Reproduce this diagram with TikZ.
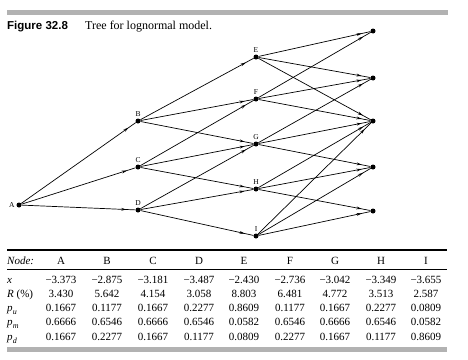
\documentclass[tikz,border=0pt]{standalone}
\usepackage{fontspec}
\setmainfont{Liberation Serif}
\newfontfamily\figfont{Liberation Sans}
\usetikzlibrary{arrows.meta,decorations.markings}
\tikzset{
	dot/.style={circle,fill,inner sep=0pt,minimum size=5pt},
	lbl/.style={font=\fontsize{7.5}{8}\selectfont,inner sep=1.5pt},
	branch/.style={draw,line width=0.7pt,postaction={decorate,decoration={markings,mark=at position -9pt with {\arrow{Stealth[length=5pt,width=2.8pt]}}}}},
	cell/.style={anchor=base,inner sep=0pt,font=\fontsize{11}{12}\selectfont},
	rowlab/.style={anchor=base west,inner sep=0pt,font=\fontsize{11}{12}\selectfont\itshape},
}
\newcommand{\psub}[1]{p\kern0.3pt\raisebox{-0.25em}{\fontsize{8}{9}\selectfont #1}}

\begin{document}
\begin{tikzpicture}[x=1pt,y=-1pt]
	\useasboundingbox (0,0) rectangle (468,359);
	% caption
	\fill[black!30] (7,10) rectangle (448,14.5);
	\node (fig) at (7,29) [anchor=base west,inner sep=0pt,font=\fontsize{11.5}{12}\selectfont\figfont\bfseries] {Figure 32.8};
	\node (cap) at (85,29) [anchor=base west,inner sep=0pt,font=\fontsize{12}{13}\selectfont] {Tree for lognormal model.};
	% tree nodes
	\node (A) at (19,205) [dot,label={[lbl]left:A}] {};
	\node (B) at (138,121) [dot,label={[lbl]above:B}] {};
	\node (C) at (138,167) [dot,label={[lbl]above:C}] {};
	\node (D) at (138,210) [dot,label={[lbl]above:D}] {};
	\node (E) at (256,57) [dot,label={[lbl]above:E}] {};
	\node (F) at (256,99) [dot,label={[lbl]above:F}] {};
	\node (G) at (256,144) [dot,label={[lbl]above:G}] {};
	\node (H) at (256,189) [dot,label={[lbl]above:H}] {};
	\node (I) at (256,236) [dot,label={[lbl]above:I}] {};
	\node (R1) at (373,31) [dot] {};
	\node (R2) at (373,78) [dot] {};
	\node (R3) at (373,121) [dot] {};
	\node (R4) at (373,167) [dot] {};
	\node (R5) at (373,211) [dot] {};
	\foreach \s/\t in {A/B,A/C,A/D,B/E,B/F,B/G,C/F,C/G,C/H,D/G,D/H,D/I,
		E/R1,E/R2,E/R3,F/R1,F/R2,F/R3,G/R2,G/R3,G/R4,H/R3,H/R4,H/R5,I/R3,I/R4,I/R5}
		\path[branch] (\s) -- (\t);
	% table
	\draw[line width=1.3pt] (7,250) -- (447,250);
	\draw[line width=0.5pt] (7,269.5) -- (447,269.5);
	\fill[black!30] (7,347) rectangle (447,352);
	\node (lnode) at (7,264.5) [rowlab] {Node:};
	\node (lx) at (7,283.5) [rowlab] {x};
	\node (lR) at (7,297.5) [rowlab] {R\upshape\ (\%)};
	\node (lpu) at (7,311.5) [rowlab] {\psub{u}};
	\node (lpm) at (7,325.5) [rowlab] {\psub{m}};
	\node (lpd) at (7,340.5) [rowlab] {\psub{d}};
	\foreach \cx/\n/\xv/\rv/\pU/\pM/\pD in {
		61/A/−3.373/3.430/0.1667/0.6666/0.1667,
		107/B/−2.875/5.642/0.1177/0.6546/0.2277,
		153/C/−3.181/4.154/0.1667/0.6666/0.1667,
		199/D/−3.487/3.058/0.2277/0.6546/0.1177,
		244/E/−2.430/8.803/0.8609/0.0582/0.0809,
		290/F/−2.736/6.481/0.1177/0.6546/0.2277,
		335/G/−3.042/4.772/0.1667/0.6666/0.1667,
		381/H/−3.349/3.513/0.2277/0.6546/0.1177,
		426/I/−3.655/2.587/0.0809/0.0582/0.8609}
	{
		\node (h\n) at (\cx,264.5) [cell] {\n};
		\node (x\n) at (\cx,283.5) [cell] {\xv};
		\node (r\n) at (\cx,297.5) [cell] {\rv};
		\node (u\n) at (\cx,311.5) [cell] {\pU};
		\node (m\n) at (\cx,325.5) [cell] {\pM};
		\node (d\n) at (\cx,340.5) [cell] {\pD};
	}
\end{tikzpicture}
\end{document}
